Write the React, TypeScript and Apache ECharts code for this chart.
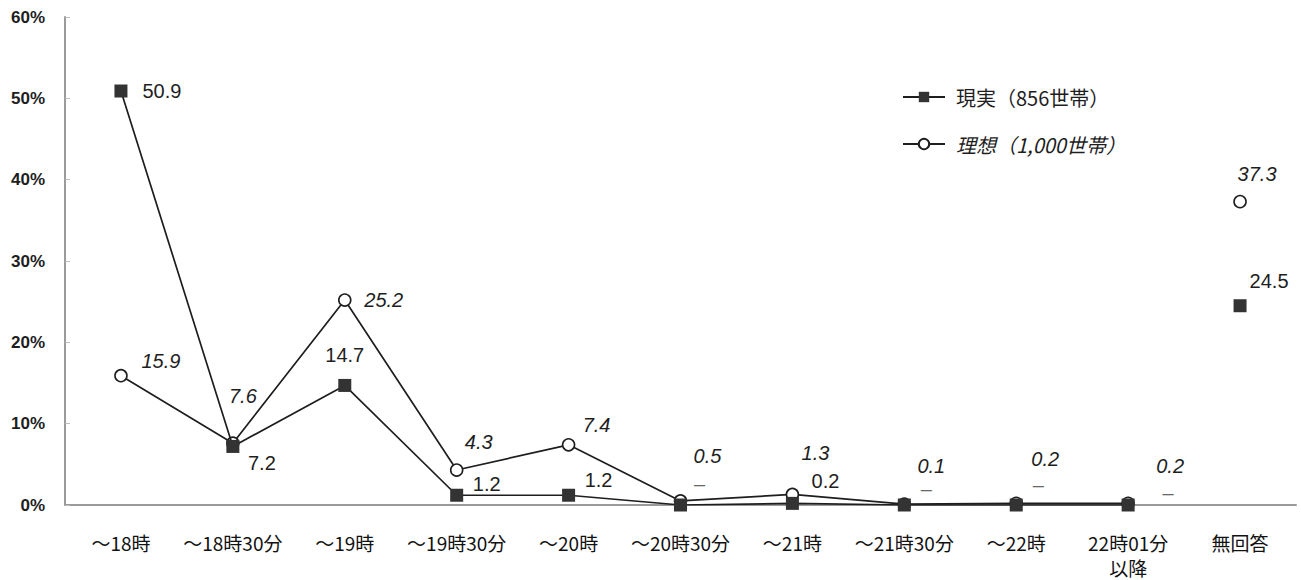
import React, { useEffect, useRef } from "react";
import * as echarts from "echarts";

const categories = [
  "～18時",
  "～18時30分",
  "～19時",
  "～19時30分",
  "～20時",
  "～20時30分",
  "～21時",
  "～21時30分",
  "～22時",
  "22時01分\n以降",
  "無回答",
];
const realValues = [50.9, 7.2, 14.7, 1.2, 1.2, 0, 0.2, 0, 0, 0, 24.5];
const idealValues = [15.9, 7.6, 25.2, 4.3, 7.4, 0.5, 1.3, 0.1, 0.2, 0.2, 37.3];
const yTicks = [0, 10, 20, 30, 40, 50, 60];
const realName = "現実（856世帯）";
const idealName = "理想（1,000世帯）";
const noAnswerIndex = 10;

// label placement (style only)
const realLabelOffsets = [
  [41, 0], [29, 17], [0, -30], [30, -11], [30, -15], [19, -21],
  [33, -22], [22, -16], [22, -20], [40, -12], [29, -25],
];
const idealLabelOffsets = [
  [40, -15], [10, -47], [39, 0], [22, -28], [28, -20], [27, -45],
  [23, -41], [27, -38], [29, -44], [42, -37], [17, -28],
];

const INK = "#1e1e1e";
const AXIS = "#9a9a9a";

function buildData(values: number[], offsets: number[][], isolated: boolean) {
  return values.map((v, i) => {
    const inPart = isolated ? i === noAnswerIndex : i < noAnswerIndex;
    if (!inPart) return "-";
    return { value: v, label: { offset: offsets[i] } };
  });
}

export default function App() {
  const ref = useRef<HTMLDivElement>(null);
  useEffect(() => {
    if (!ref.current) return;
    const chart = echarts.init(ref.current, undefined, { renderer: "svg" });

    const realLabel = {
      show: true,
      position: "inside",
      align: "center",
      verticalAlign: "middle",
      fontFamily: "Liberation Sans, Arial, sans-serif",
      fontSize: 20,
      color: INK,
      formatter: (p: any) => (p.value === 0 ? "{d|–}" : Number(p.value).toFixed(1)),
      rich: { d: { color: "#666", fontSize: 20, fontFamily: "Liberation Sans, Arial, sans-serif" } },
    };
    const idealLabel = {
      show: true,
      position: "inside",
      align: "center",
      verticalAlign: "middle",
      fontFamily: "Liberation Sans, Arial, sans-serif",
      fontStyle: "italic",
      fontSize: 20,
      color: INK,
      formatter: (p: any) => Number(p.value).toFixed(1),
    };
    const idealStyle = {
      symbol: "circle",
      symbolSize: 12,
      itemStyle: { color: "#fff", borderColor: INK, borderWidth: 1.6 },
      lineStyle: { color: INK, width: 1.7 },
      label: idealLabel,
      z: 2,
    };
    const realStyle = {
      symbol: "rect",
      symbolSize: 13,
      itemStyle: { color: "#333", borderWidth: 0 },
      lineStyle: { color: INK, width: 1.7 },
      label: realLabel,
      z: 3,
    };

    chart.setOption({
      animation: false,
      backgroundColor: "#fff",
      grid: { left: 65, right: 5, top: 17, bottom: 72, containLabel: false },
      legend: {
        orient: "vertical",
        left: 897,
        top: 82,
        itemWidth: 42,
        itemHeight: 13,
        itemGap: 27,
        textStyle: {
          fontSize: 20,
          color: INK,
          fontFamily: "Noto Sans CJK JP",
          padding: [0, 0, 0, 6],
        },
        data: [
          { name: realName },
          { name: idealName, textStyle: { fontStyle: "italic" } },
        ],
      },
      xAxis: {
        type: "category",
        data: categories,
        boundaryGap: true,
        axisLine: { show: true, lineStyle: { color: AXIS, width: 2 } },
        axisTick: { show: false },
        axisLabel: {
          interval: 0,
          margin: 25,
          fontSize: 19,
          lineHeight: 25,
          color: "#111",
          fontFamily: "Noto Sans CJK JP",
        },
      },
      yAxis: {
        type: "value",
        min: yTicks[0],
        max: yTicks[yTicks.length - 1],
        interval: yTicks[1] - yTicks[0],
        splitLine: { show: false },
        axisLine: { show: true, lineStyle: { color: AXIS, width: 2 } },
        axisTick: { show: true, inside: true, length: 5, lineStyle: { color: "#bbb" } },
        axisLabel: {
          formatter: "{value}%",
          fontSize: 17,
          fontWeight: "bold",
          color: INK,
          margin: 20,
          fontFamily: "Liberation Sans, Arial, sans-serif",
        },
      },
      series: [
        { type: "line", name: idealName, data: buildData(idealValues, idealLabelOffsets, false), ...idealStyle },
        { type: "line", name: idealName, data: buildData(idealValues, idealLabelOffsets, true), ...idealStyle },
        { type: "line", name: realName, data: buildData(realValues, realLabelOffsets, false), ...realStyle },
        { type: "line", name: realName, data: buildData(realValues, realLabelOffsets, true), ...realStyle },
      ],
    });
    return () => chart.dispose();
  }, []);
  return (
    <div
      ref={ref}
      style={{ position: "fixed", left: 0, top: 0, width: 1301, height: 580, background: "#fff" }}
    />
  );
}
